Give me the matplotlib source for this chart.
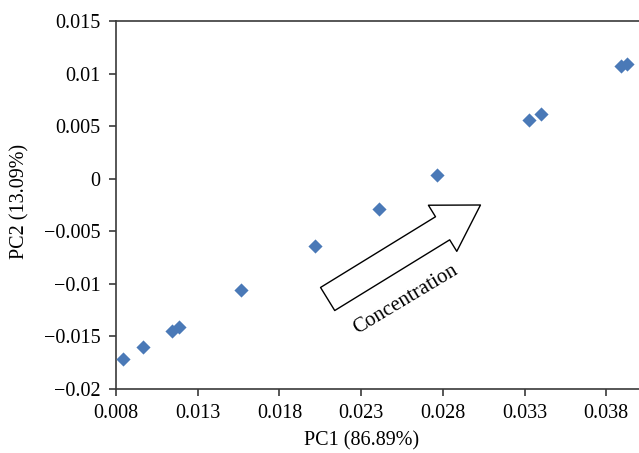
import matplotlib
matplotlib.use("Agg")
import matplotlib.pyplot as plt

# PCA scores
pc1 = [0.00843, 0.00965, 0.01142, 0.01185, 0.01564, 0.02016,
       0.02407, 0.02767, 0.03329, 0.03402, 0.03891, 0.03927]
pc2 = [-0.01715, -0.01605, -0.01449, -0.01410, -0.01059, -0.00640,
       -0.00290, 0.00040, 0.00555, 0.00615, 0.01070, 0.01090]

x_ticks = [0.008, 0.013, 0.018, 0.023, 0.028, 0.033, 0.038]
x_tick_labels = ["0.008", "0.013", "0.018", "0.023", "0.028", "0.033", "0.038"]
y_ticks = [-0.02, -0.015, -0.01, -0.005, 0, 0.005, 0.01, 0.015]
y_tick_labels = ["\u22120.02", "\u22120.015", "\u22120.01", "\u22120.005",
                 "0", "0.005", "0.01", "0.015"]

plt.rcParams["font.family"] = ["Liberation Serif", "DejaVu Serif"]

fig = plt.figure(figsize=(6.39, 4.53), dpi=100)
ax = fig.add_axes([0.1815, 0.1413, 0.8185, 0.8123])

ax.scatter(pc1, pc2, marker="D", s=52, color="#4a79b7", linewidths=0, zorder=3)

ax.set_xlim(0.008, 0.040)
ax.set_ylim(-0.02, 0.015)
ax.set_xticks(x_ticks)
ax.set_xticklabels(x_tick_labels)
ax.set_yticks(y_ticks)
ax.set_yticklabels(y_tick_labels)

spine_color = "#3a3a3a"
for side in ("left", "bottom", "top"):
    ax.spines[side].set_color(spine_color)
    ax.spines[side].set_linewidth(1.2)
ax.spines["right"].set_visible(False)
ax.tick_params(axis="both", direction="out", length=5, width=1.2,
               color=spine_color, labelsize=14.5, pad=6)
ax.tick_params(axis="x", top=False)

ax.set_xlabel("PC1 (86.89%)", fontsize=14.5)
ax.set_ylabel("PC2 (13.09%)", fontsize=14.5)
ax.xaxis.set_label_coords(0.469, -0.115)
ax.yaxis.set_label_coords(-0.165, 0.51)

# block arrow showing the concentration direction
ax.annotate("", xy=(0.0303, -0.0025), xytext=(0.02095, -0.01144),
            arrowprops=dict(arrowstyle="simple,head_length=32,head_width=39,tail_width=19.5",
                            mutation_scale=1, fc="white", ec="black", lw=1.0,
                            shrinkA=0, shrinkB=0))
ax.text(0.0257, -0.01150, "Concentration", rotation=31, fontsize=15,
        ha="center", va="center", rotation_mode="anchor")

fig.savefig("out.png", dpi=100)
